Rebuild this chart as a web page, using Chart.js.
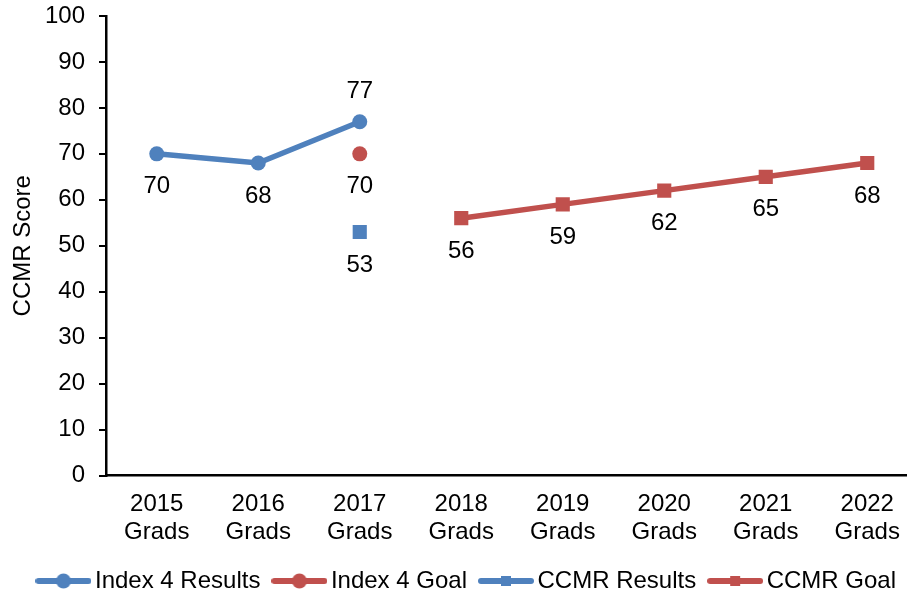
<!DOCTYPE html>
<html>
<head>
<meta charset="utf-8">
<title>CCMR Score</title>
<script src="https://cdn.jsdelivr.net/npm/chart.js@4.4.1/dist/chart.umd.min.js"></script>
<style>
  html, body { margin: 0; padding: 0; background: #fff; overflow: hidden; }
  #wrap { width: 928px; height: 595px; }
</style>
</head>
<body>
<div id="wrap"><canvas id="chart" width="928" height="595"></canvas></div>
<script>
const categories = [
    ["2015", "Grads"], ["2016", "Grads"], ["2017", "Grads"], ["2018", "Grads"],
    ["2019", "Grads"], ["2020", "Grads"], ["2021", "Grads"], ["2022", "Grads"]
];
const index4Results = [70, 68, 77, null, null, null, null, null];
const index4Goal = [null, null, 70, null, null, null, null, null];
const ccmrResults = [null, null, 53, null, null, null, null, null];
const ccmrGoal = [null, null, null, 56, 59, 62, 65, 68];
const yTicks = [0, 10, 20, 30, 40, 50, 60, 70, 80, 90, 100];

const BLUE = "#4F81BD";
const RED = "#C0504D";
const FONT = "'Liberation Sans', Arial, sans-serif";
const FONT_SIZE = 24;

// little line+marker picture for each legend entry
function legendIcon(color, shape) {
    let c = document.createElement("canvas");
    c.width = 56;
    c.height = 18;
    let g = c.getContext("2d");
    g.strokeStyle = color;
    g.lineWidth = 6;
    g.lineCap = "round";
    g.beginPath();
    g.moveTo(3, 9);
    g.lineTo(53, 9);
    g.stroke();
    g.fillStyle = color;
    if (shape === "circle") {
        g.beginPath();
        g.arc(28, 9, 7.5, 0, Math.PI * 2);
        g.fill();
    } else {
        g.fillRect(23, 4, 10, 10);
    }
    return c;
}

// value labels above / below the points
const valueLabels = {
    id: "valueLabels",
    afterDatasetsDraw(chart) {
        const ctx = chart.ctx;
        ctx.save();
        ctx.font = FONT_SIZE + "px " + FONT;
        ctx.fillStyle = "#000";
        ctx.textAlign = "center";
        ctx.textBaseline = "middle";
        chart.data.datasets.forEach((ds, i) => {
            const meta = chart.getDatasetMeta(i);
            meta.data.forEach((pt, j) => {
                const v = ds.data[j];
                if (v === null || v === undefined) return;
                const pos = Array.isArray(ds.labelPos) ? ds.labelPos[j] : ds.labelPos;
                const dy = pos === "above" ? -30 : 33;
                ctx.fillText(String(v), pt.x, pt.y + dy);
            });
        });
        ctx.restore();
    }
};

// nudge the legend a little to the right, like the original
const legendShift = {
    id: "legendShift",
    afterLayout(chart) {
        if (chart.legend) {
            chart.legend.left += 8;
            chart.legend.right += 8;
        }
    }
};

new Chart(document.getElementById("chart").getContext("2d"), {
    type: "line",
    data: {
        labels: categories,
        datasets: [
            {
                label: "Index 4 Results",
                data: index4Results,
                borderColor: BLUE,
                backgroundColor: BLUE,
                borderWidth: 5.5,
                pointStyle: "circle",
                pointRadius: 7.5,
                pointBorderWidth: 0,
                labelPos: ["below", "below", "above"],
                legendIcon: legendIcon(BLUE, "circle")
            },
            {
                label: "Index 4 Goal",
                data: index4Goal,
                borderColor: RED,
                backgroundColor: RED,
                borderWidth: 5.5,
                pointStyle: "circle",
                pointRadius: 7.5,
                pointBorderWidth: 0,
                labelPos: "below",
                legendIcon: legendIcon(RED, "circle")
            },
            {
                label: "CCMR Results",
                data: ccmrResults,
                borderColor: BLUE,
                backgroundColor: BLUE,
                borderWidth: 5.5,
                pointStyle: "rect",
                pointRadius: 10,
                pointBorderWidth: 0,
                labelPos: "below",
                legendIcon: legendIcon(BLUE, "rect")
            },
            {
                label: "CCMR Goal",
                data: ccmrGoal,
                borderColor: RED,
                backgroundColor: RED,
                borderWidth: 5.5,
                pointStyle: "rect",
                pointRadius: 10,
                pointBorderWidth: 0,
                labelPos: "below",
                legendIcon: legendIcon(RED, "rect")
            }
        ]
    },
    options: {
        responsive: false,
        animation: false,
        layout: { padding: { top: 16, right: 4, left: 0, bottom: -8 } },
        plugins: {
            tooltip: { enabled: false },
            legend: {
                position: "bottom",
                labels: {
                    usePointStyle: true,
                    pointStyleWidth: 39,
                    padding: 19.5,
                    color: "#000",
                    font: { family: FONT, size: FONT_SIZE },
                    generateLabels(chart) {
                        return chart.data.datasets.map((ds, i) => ({
                            text: ds.label,
                            pointStyle: ds.legendIcon,
                            fillStyle: ds.borderColor,
                            strokeStyle: ds.borderColor,
                            lineWidth: 0,
                            fontColor: "#000",
                            hidden: false,
                            datasetIndex: i
                        }));
                    }
                }
            }
        },
        scales: {
            x: {
                offset: true,
                grid: { display: false },
                border: { display: true, color: "#000", width: 2.5 },
                afterFit(scale) {
                    scale.height = 74;
                    scale.paddingLeft = 0;
                    scale.paddingRight = 0;
                },
                ticks: {
                    color: "#000",
                    padding: 7,
                    maxRotation: 0,
                    autoSkip: false,
                    font: { family: FONT, size: FONT_SIZE, lineHeight: 1.17 }
                }
            },
            y: {
                min: 0,
                max: 100,
                afterBuildTicks(scale) {
                    scale.ticks = yTicks.map(v => ({ value: v }));
                },
                afterFit(scale) {
                    scale.width = 106;
                    scale.paddingTop = 0;
                    scale.paddingBottom = 0;
                },
                grid: {
                    drawOnChartArea: false,
                    drawTicks: true,
                    tickLength: 7,
                    color: "#000",
                    lineWidth: 2
                },
                border: { display: true, color: "#000", width: 2.5 },
                title: {
                    display: true,
                    text: "CCMR Score",
                    color: "#000",
                    padding: { top: 9, bottom: 0 },
                    font: { family: FONT, size: FONT_SIZE }
                },
                ticks: {
                    color: "#000",
                    padding: 14,
                    font: { family: FONT, size: FONT_SIZE }
                }
            }
        }
    },
    plugins: [valueLabels, legendShift]
});
</script>
</body>
</html>
